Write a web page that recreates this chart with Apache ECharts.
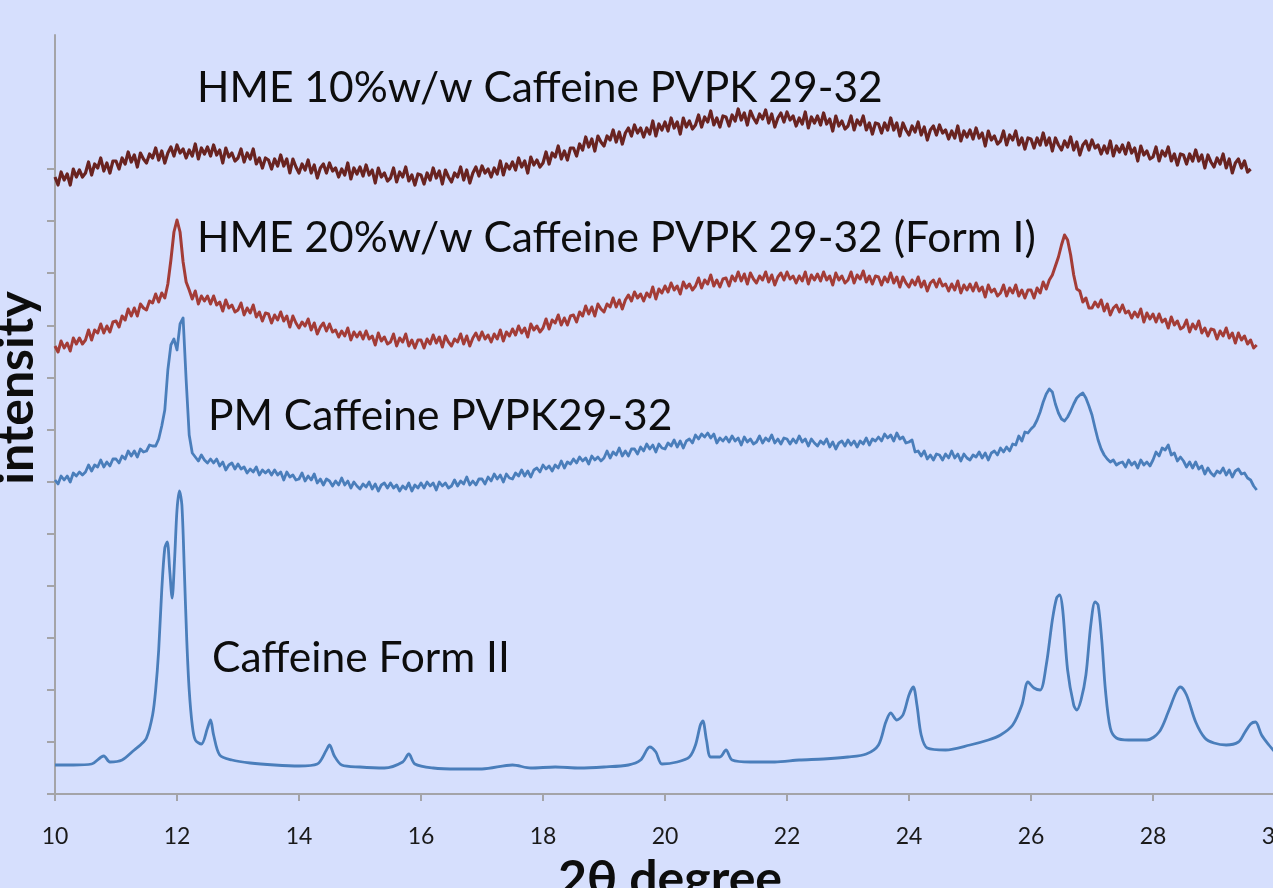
<!DOCTYPE html>
<html>
<head>
<meta charset="utf-8">
<title>XRPD caffeine / PVPK 29-32</title>
<script src="https://cdn.jsdelivr.net/npm/echarts@6/dist/echarts.min.js"></script>
<style>
  html, body { margin: 0; padding: 0; background: #d6dffd; overflow: hidden; }
  #chart { width: 1273px; height: 888px; }
</style>
</head>
<body>
<div id="chart"></div>
<script>
// Diffractograms, 2θ from 10° in 0.05° steps (offset intensities, stacked traces)
const scanStart = 10;
const scanStep = 0.05;

const xTicks = [10, 12, 14, 16, 18, 20, 22, 24, 26, 28, 30];
const yTicks = [0, 52.1, 104.2, 156.2, 208.3, 260.4, 312.5, 364.6, 416.7, 468.7, 520.8, 572.9, 625];

const traceNames = [
  'HME 10%w/w Caffeine PVPK 29-32',
  'HME 20%w/w Caffeine PVPK 29-32 (Form I)',
  'PM Caffeine PVPK29-32',
  'Caffeine Form II'
];

// HME 10% w/w extrudate, 10.00 – 29.60°
const hme10 = [
  617, 609, 622, 614, 620, 609, 625, 617, 624, 617,
  621, 632, 619, 630, 626, 636, 623, 631, 621, 633,
  633, 625, 636, 630, 642, 632, 639, 627, 641, 635,
  631, 640, 636, 646, 634, 643, 631, 641, 647, 638,
  649, 641, 645, 636, 644, 638, 650, 635, 646, 640,
  647, 638, 649, 639, 644, 631, 646, 637, 641, 633,
  636, 645, 632, 641, 635, 645, 630, 636, 626, 636,
  634, 625, 635, 628, 639, 628, 635, 621, 635, 627,
  621, 630, 624, 634, 621, 629, 616, 626, 630, 621,
  631, 623, 626, 617, 625, 619, 631, 615, 626, 620,
  627, 618, 629, 619, 624, 611, 626, 617, 621, 613,
  616, 626, 612, 622, 617, 627, 613, 619, 609, 620,
  619, 610, 621, 614, 626, 616, 623, 610, 624, 617,
  612, 621, 617, 627, 614, 624, 611, 621, 627, 618,
  628, 621, 625, 617, 626, 620, 633, 619, 630, 625,
  632, 624, 636, 627, 633, 621, 637, 629, 634, 627,
  631, 642, 630, 641, 637, 648, 635, 643, 634, 646,
  646, 638, 650, 644, 657, 647, 655, 643, 658, 652,
  648, 658, 654, 664, 652, 662, 650, 661, 666, 658,
  669, 661, 666, 657, 666, 660, 673, 658, 670, 664,
  672, 663, 676, 666, 672, 660, 676, 667, 673, 665,
  669, 679, 667, 677, 672, 683, 669, 676, 667, 678,
  677, 668, 679, 673, 685, 674, 681, 669, 683, 676,
  671, 680, 675, 684, 671, 680, 667, 676, 681, 672,
  682, 674, 678, 668, 676, 670, 682, 666, 677, 671,
  678, 669, 681, 670, 675, 663, 678, 668, 673, 665,
  668, 678, 664, 674, 669, 678, 664, 671, 660, 671,
  670, 661, 671, 664, 676, 664, 671, 658, 671, 664,
  659, 668, 662, 672, 659, 667, 654, 664, 668, 659,
  669, 661, 664, 655, 663, 656, 668, 653, 663, 657,
  664, 655, 666, 656, 661, 648, 663, 654, 658, 650,
  653, 663, 649, 659, 654, 663, 649, 656, 645, 656,
  655, 646, 656, 649, 661, 649, 656, 643, 656, 649,
  644, 653, 647, 657, 644, 652, 639, 649, 653, 644,
  654, 646, 649, 640, 648, 641, 653, 638, 648, 642,
  649, 640, 651, 641, 646, 633, 648, 639, 643, 635,
  637, 647, 633, 643, 638, 647, 633, 640, 629, 640,
  639, 630, 640, 633, 644, 633, 639, 626, 639, 632,
  627, 636, 630, 640, 626, 635, 621, 631, 635, 626,
  633, 622, 625
];

// HME 20% w/w extrudate (Form I reflections near 12.0° and 26.55°), 10.00 – 29.70°
const hme20 = [
  448, 442, 453, 446, 451, 443, 456, 450, 456, 450,
  454, 464, 454, 464, 461, 470, 461, 468, 462, 472,
  473, 467, 478, 474, 485, 478, 486, 478, 490, 486,
  484, 493, 491, 500, 492, 501, 496, 510, 534, 562,
  574, 562, 532, 512, 504, 495, 503, 490, 498, 493,
  498, 490, 498, 489, 492, 483, 494, 486, 489, 482,
  484, 491, 479, 486, 481, 489, 477, 482, 473, 481,
  480, 471, 479, 474, 482, 473, 478, 467, 478, 471,
  466, 472, 468, 475, 464, 471, 460, 467, 471, 463,
  470, 462, 464, 457, 463, 458, 466, 454, 462, 457,
  462, 455, 463, 455, 458, 449, 461, 453, 457, 450,
  452, 460, 448, 456, 452, 460, 448, 454, 446, 454,
  454, 446, 455, 450, 459, 451, 457, 447, 458, 452,
  448, 455, 452, 460, 450, 458, 448, 456, 461, 454,
  462, 455, 459, 452, 460, 455, 464, 453, 462, 458,
  465, 459, 468, 461, 466, 457, 470, 464, 468, 462,
  466, 475, 465, 474, 471, 479, 469, 476, 469, 478,
  479, 472, 482, 478, 488, 480, 487, 478, 490, 485,
  482, 490, 487, 496, 487, 494, 485, 494, 499, 493,
  502, 496, 500, 493, 501, 497, 507, 495, 505, 501,
  508, 502, 511, 504, 508, 500, 512, 506, 510, 504,
  508, 516, 506, 514, 510, 519, 508, 514, 507, 515,
  516, 508, 518, 513, 522, 513, 520, 510, 521, 515,
  511, 518, 514, 522, 512, 519, 509, 517, 521, 514,
  522, 515, 518, 511, 518, 513, 522, 510, 519, 514,
  520, 513, 522, 514, 518, 509, 521, 514, 518, 511,
  514, 522, 511, 519, 515, 523, 512, 518, 510, 518,
  517, 509, 517, 512, 521, 511, 517, 507, 517, 511,
  507, 514, 509, 517, 507, 513, 503, 511, 514, 507,
  515, 508, 510, 503, 510, 504, 513, 501, 509, 504,
  510, 503, 511, 503, 507, 497, 509, 502, 505, 498,
  501, 509, 498, 506, 501, 509, 498, 504, 496, 504,
  504, 496, 506, 501, 512, 505, 514, 519, 528, 537,
  549, 559, 554, 539, 519, 505, 503, 492, 496, 486,
  486, 492, 487, 494, 483, 490, 479, 486, 489, 482,
  489, 481, 483, 476, 482, 477, 485, 472, 481, 475,
  480, 472, 480, 472, 475, 466, 477, 469, 473, 465,
  467, 474, 462, 470, 465, 473, 461, 466, 458, 465,
  464, 455, 463, 458, 466, 456, 461, 451, 461, 454,
  458, 450, 454, 446, 449
];

// Physical mixture, 10.00 – 29.70°
const physMix = [
  314, 310, 318, 314, 318, 312, 321, 318, 322, 319,
  322, 329, 323, 329, 327, 334, 327, 332, 328, 335,
  335, 331, 338, 335, 343, 338, 343, 337, 345, 342,
  343, 349, 348, 348, 355, 368, 384, 424, 449, 455,
  444, 470, 476, 414, 359, 341, 337, 333, 339, 334,
  331, 335, 331, 335, 328, 332, 324, 329, 331, 325,
  330, 325, 327, 321, 325, 322, 327, 319, 324, 321,
  324, 319, 324, 319, 322, 314, 322, 317, 319, 314,
  315, 321, 313, 318, 314, 320, 311, 315, 309, 315,
  313, 308, 313, 309, 316, 309, 313, 306, 312, 308,
  305, 310, 307, 312, 305, 310, 303, 309, 311, 306,
  311, 306, 309, 303, 308, 305, 311, 303, 309, 306,
  311, 306, 312, 308, 311, 304, 312, 308, 311, 306,
  308, 314, 308, 313, 310, 317, 309, 313, 309, 315,
  315, 310, 317, 313, 320, 315, 319, 312, 320, 316,
  315, 321, 318, 324, 318, 323, 317, 324, 326, 322,
  329, 325, 328, 323, 329, 326, 333, 326, 332, 330,
  335, 331, 337, 333, 336, 330, 338, 334, 337, 333,
  336, 343, 336, 342, 339, 346, 338, 343, 338, 345,
  345, 340, 347, 343, 350, 345, 349, 342, 350, 346,
  345, 351, 348, 354, 347, 353, 346, 353, 355, 351,
  359, 355, 360, 357, 361, 356, 360, 351, 356, 353,
  357, 352, 358, 353, 356, 349, 357, 352, 355, 350,
  352, 358, 351, 356, 353, 359, 351, 355, 350, 356,
  355, 350, 355, 351, 358, 352, 355, 348, 355, 351,
  348, 353, 350, 355, 347, 352, 345, 351, 353, 348,
  354, 349, 353, 347, 353, 350, 356, 349, 355, 353,
  357, 353, 360, 356, 359, 353, 361, 355, 357, 351,
  352, 354, 342, 343, 338, 343, 335, 339, 334, 340,
  339, 334, 340, 336, 343, 336, 340, 333, 340, 336,
  334, 339, 337, 342, 336, 341, 334, 341, 343, 339,
  346, 342, 347, 343, 350, 349, 358, 353, 362, 361,
  365, 368, 374, 382, 392, 400, 405, 402, 390, 381,
  375, 373, 377, 383, 390, 396, 399, 401, 396, 388,
  379, 366, 354, 345, 339, 335, 332, 334, 329, 331,
  332, 327, 334, 329, 332, 326, 334, 329, 332, 328,
  334, 342, 338, 346, 344, 349, 339, 341, 333, 337,
  333, 327, 332, 326, 332, 325, 328, 320, 326, 321,
  318, 323, 321, 326, 319, 324, 317, 323, 325, 320,
  321, 316, 314, 308, 304
];

// Caffeine Form II reference pattern
const formIIAngle = [
  10.0, 10.3, 10.6, 10.8, 10.9, 11.1, 11.3, 11.4, 11.5, 11.6,
  11.65, 11.7, 11.75, 11.8, 11.84, 11.88, 11.92, 11.96, 12.0, 12.04,
  12.08, 12.12, 12.16, 12.2, 12.25, 12.3, 12.4, 12.5, 12.55, 12.6,
  12.7, 12.9, 13.2, 13.6, 14.0, 14.3, 14.45, 14.5, 14.58, 14.7,
  15.0, 15.4, 15.7, 15.8, 15.9, 16.2, 16.6, 17.0, 17.5, 17.8,
  18.2, 18.6, 19.0, 19.4, 19.6, 19.75, 19.85, 19.95, 20.2, 20.4,
  20.5, 20.58, 20.62, 20.68, 20.75, 20.9, 21.0, 21.1, 21.4, 21.8,
  22.2, 22.6, 23.0, 23.3, 23.5, 23.62, 23.7, 23.8, 23.9, 24.0,
  24.07, 24.13, 24.2, 24.3, 24.6, 25.0, 25.3, 25.5, 25.7, 25.85,
  25.95, 26.05, 26.15, 26.25, 26.35, 26.42, 26.47, 26.52, 26.6, 26.7,
  26.75, 26.82, 26.9, 26.98, 27.05, 27.1, 27.16, 27.22, 27.3, 27.4,
  27.6, 27.9, 28.1, 28.25, 28.38, 28.45, 28.55, 28.7, 28.85, 29.0,
  29.2, 29.4, 29.5, 29.6, 29.68, 29.78, 29.9, 30.0
];
const formIICounts = [
  29, 29, 30, 38, 32, 34, 44, 49, 56, 79,
  104, 144, 204, 246, 252, 224, 196, 234, 284, 303,
  289, 224, 154, 104, 69, 54, 50, 66, 74, 59,
  39, 34, 31, 29, 28, 30, 44, 49, 38, 29,
  27, 26, 32, 40, 30, 26, 25, 25, 29, 26,
  27, 26, 27, 29, 34, 47, 42, 30, 32, 37,
  49, 69, 73, 54, 37, 37, 44, 34, 32, 32,
  34, 35, 37, 40, 49, 72, 81, 74, 79, 99,
  107, 89, 59, 46, 44, 49, 54, 59, 69, 89,
  112, 106, 104, 129, 174, 196, 199, 184, 124, 89,
  84, 94, 119, 169, 192, 189, 154, 104, 66, 56,
  54, 54, 62, 82, 102, 107, 99, 72, 56, 51,
  49, 52, 61, 70, 72, 59, 49, 42
];

const traceColors = ['#692321', '#a33c37', '#4a7ebb', '#4a7ebb'];

function onScanGrid(values) {
  return values.map((v, i) => [+(scanStart + i * scanStep).toFixed(2), v]);
}

const FONT = 'Lato, "Open Sans", sans-serif';
const axisGrey = '#a4a4a8';

const chart = echarts.init(document.getElementById('chart'), null, { renderer: 'canvas' });

function lineSeries(name, data, color, z, width, smooth) {
  return {
    name: name,
    type: 'line',
    data: data,
    showSymbol: false,
    symbol: 'none',
    silent: true,
    smooth: smooth || false,
    z: z,
    lineStyle: { color: color, width: width, join: 'round' },
    emphasis: { disabled: true }
  };
}

function label(text, x, y) {
  return {
    type: 'text',
    x: x,
    y: y,
    silent: true,
    style: {
      text: text,
      font: '42.5px ' + FONT,
      fill: '#0d0d0d',
      textAlign: 'left',
      textVerticalAlign: 'middle',
      align: 'left',
      verticalAlign: 'middle'
    }
  };
}

chart.setOption({
  backgroundColor: '#d6dffd',
  animation: false,
  grid: { left: 55, right: -2, top: 35, bottom: 94, containLabel: false, outerBoundsMode: 'none' },
  xAxis: {
    type: 'value',
    min: xTicks[0],
    max: xTicks[xTicks.length - 1],
    interval: 2,
    axisLine: { show: true, lineStyle: { color: axisGrey, width: 2 } },
    axisTick: { show: true, length: 7, lineStyle: { color: axisGrey, width: 2 } },
    axisLabel: {
      show: true,
      margin: 31,
      fontFamily: FONT,
      fontSize: 23,
      color: '#1a1a1a',
      showMinLabel: true,
      showMaxLabel: true,
      hideOverlap: false
    },
    splitLine: { show: false }
  },
  yAxis: {
    type: 'value',
    min: 0,
    max: 759,
    axisLine: { show: true, lineStyle: { color: axisGrey, width: 2 } },
    axisTick: { show: true, length: 8, customValues: yTicks, lineStyle: { color: axisGrey, width: 2 } },
    axisLabel: { show: false },
    splitLine: { show: false }
  },
  series: [
    lineSeries(traceNames[3], formIIAngle.map((a, i) => [a, formIICounts[i]]), traceColors[3], 2, 2.8, 0.3),
    lineSeries(traceNames[2], onScanGrid(physMix), traceColors[2], 3, 2.8),
    lineSeries(traceNames[1], onScanGrid(hme20), traceColors[1], 4, 3),
    lineSeries(traceNames[0], onScanGrid(hme10), traceColors[0], 5, 3.2)
  ],
  graphic: {
    elements: [
      label(traceNames[0], 197, 88),
      label(traceNames[1], 197, 238),
      label(traceNames[2], 208, 416),
      label(traceNames[3], 212, 658),
      {
        type: 'text',
        x: 17,
        y: 388,
        rotation: Math.PI / 2,
        silent: true,
        style: {
          text: 'intensity',
          font: 'bold 50px ' + FONT,
          fill: '#0d0d0d',
          textAlign: 'center',
          textVerticalAlign: 'middle',
          align: 'center',
          verticalAlign: 'middle'
        }
      },
      {
        type: 'text',
        x: 670,
        y: 880,
        silent: true,
        style: {
          text: '2θ degree',
          font: 'bold 50px ' + FONT,
          fill: '#0d0d0d',
          textAlign: 'center',
          textVerticalAlign: 'middle',
          align: 'center',
          verticalAlign: 'middle'
        }
      }
    ]
  }
});
</script>
</body>
</html>
